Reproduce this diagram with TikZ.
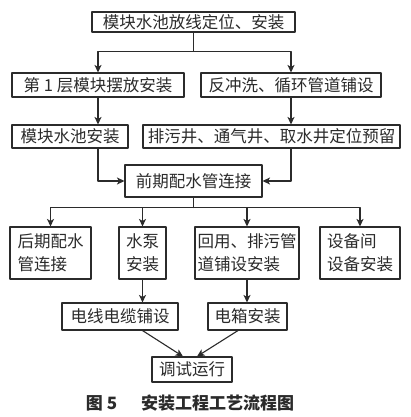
\documentclass[tikz,border=0pt]{standalone}
\usepackage{fontspec}
\setmainfont{Noto Sans CJK SC}
\usetikzlibrary{arrows.meta,positioning}
\definecolor{flowInk}{HTML}{2B2B2B}
\begin{document}
\begin{tikzpicture}[x=1pt,y=-1pt,>={Stealth[length=7.5pt,width=7pt,inset=2pt]},line cap=round,line join=round]
\path[fill=white] (0,0) rectangle (410,417);
\tikzset{box/.style={draw=flowInk,line width=1.1pt,inner sep=0pt,minimum height=24pt,text=flowInk,align=left,font=\fontsize{16.5}{23}\selectfont},line/.style={draw=flowInk,line width=1.1pt},wire/.style={line,->}}
\node[box,minimum width=203pt,minimum height=20pt] (start) at (193.5,22) {模块水池放线定位、安装};
\node[box,minimum width=172pt] (layer) at (98,85) {第 1 层模块摆放安装};
\node[box,minimum width=180pt] (flush) at (291,85) {反冲洗、循环管道铺设};
\node[box,minimum width=116pt,minimum height=23pt] (pool) at (70,136.5) {模块水池安装};
\node[box,minimum width=257pt,minimum height=23pt] (wells) at (271.5,136.5) {排污井、通气井、取水井定位预留};
\node[box,minimum width=137pt,minimum height=32pt] (early) at (193.5,181) {前期配水管连接};
\node[box,minimum width=81pt,minimum height=52pt] (late) at (50.5,253) {后期配水\\管连接};
\node[box,minimum width=47pt,minimum height=52pt] (pump) at (142.5,253) {水泵\\安装};
\node[box,minimum width=104pt,minimum height=52pt] (reuse) at (247,253) {回用、排污管\\道铺设安装};
\node[box,minimum width=80pt,minimum height=52pt] (equip) at (360,253) {设备间\\设备安装};
\node[box,minimum width=116pt,minimum height=27pt] (cable) at (120,316.5) {电线电缆铺设};
\node[box,minimum width=79pt,minimum height=27pt] (ebox) at (247.5,316.5) {电箱安装};
\node[box,minimum width=80pt,minimum height=25pt] (test) at (192,369.5) {调试运行};
\node[text=flowInk,font=\fontsize{17}{20}\selectfont\bfseries] (caption) at (190,403) {图 5\hspace{1.4em}安装工程工艺流程图};
\draw[wire] (start.south) -- ++(0,19) -| (layer.north);
\draw[wire] (start.south) -- ++(0,19) -| (flush.north);
\draw[wire] (layer.south) -- (layer.south |- pool.north);
\draw[wire] (flush.south) -- (flush.south |- wells.north);
\draw[wire] (layer.south |- pool.south) |- (early.west);
\draw[wire] (flush.south |- wells.south) |- (early.east);
\draw[line] (early.south) -- ++(0,10) coordinate (fork);
\foreach \n in {late,pump,reuse,equip} \draw[wire] (fork) -| (\n.north);
\draw[wire] (pump.south) -- (pump.south |- cable.north);
\draw[wire] (reuse.south) -- (reuse.south |- ebox.north);
\draw[wire] (pump.south |- cable.south) -- ([xshift=-9pt]test.north);
\draw[wire] ([xshift=-9.5pt]ebox.south) -- ([xshift=5pt]test.north);
\end{tikzpicture}
\end{document}
